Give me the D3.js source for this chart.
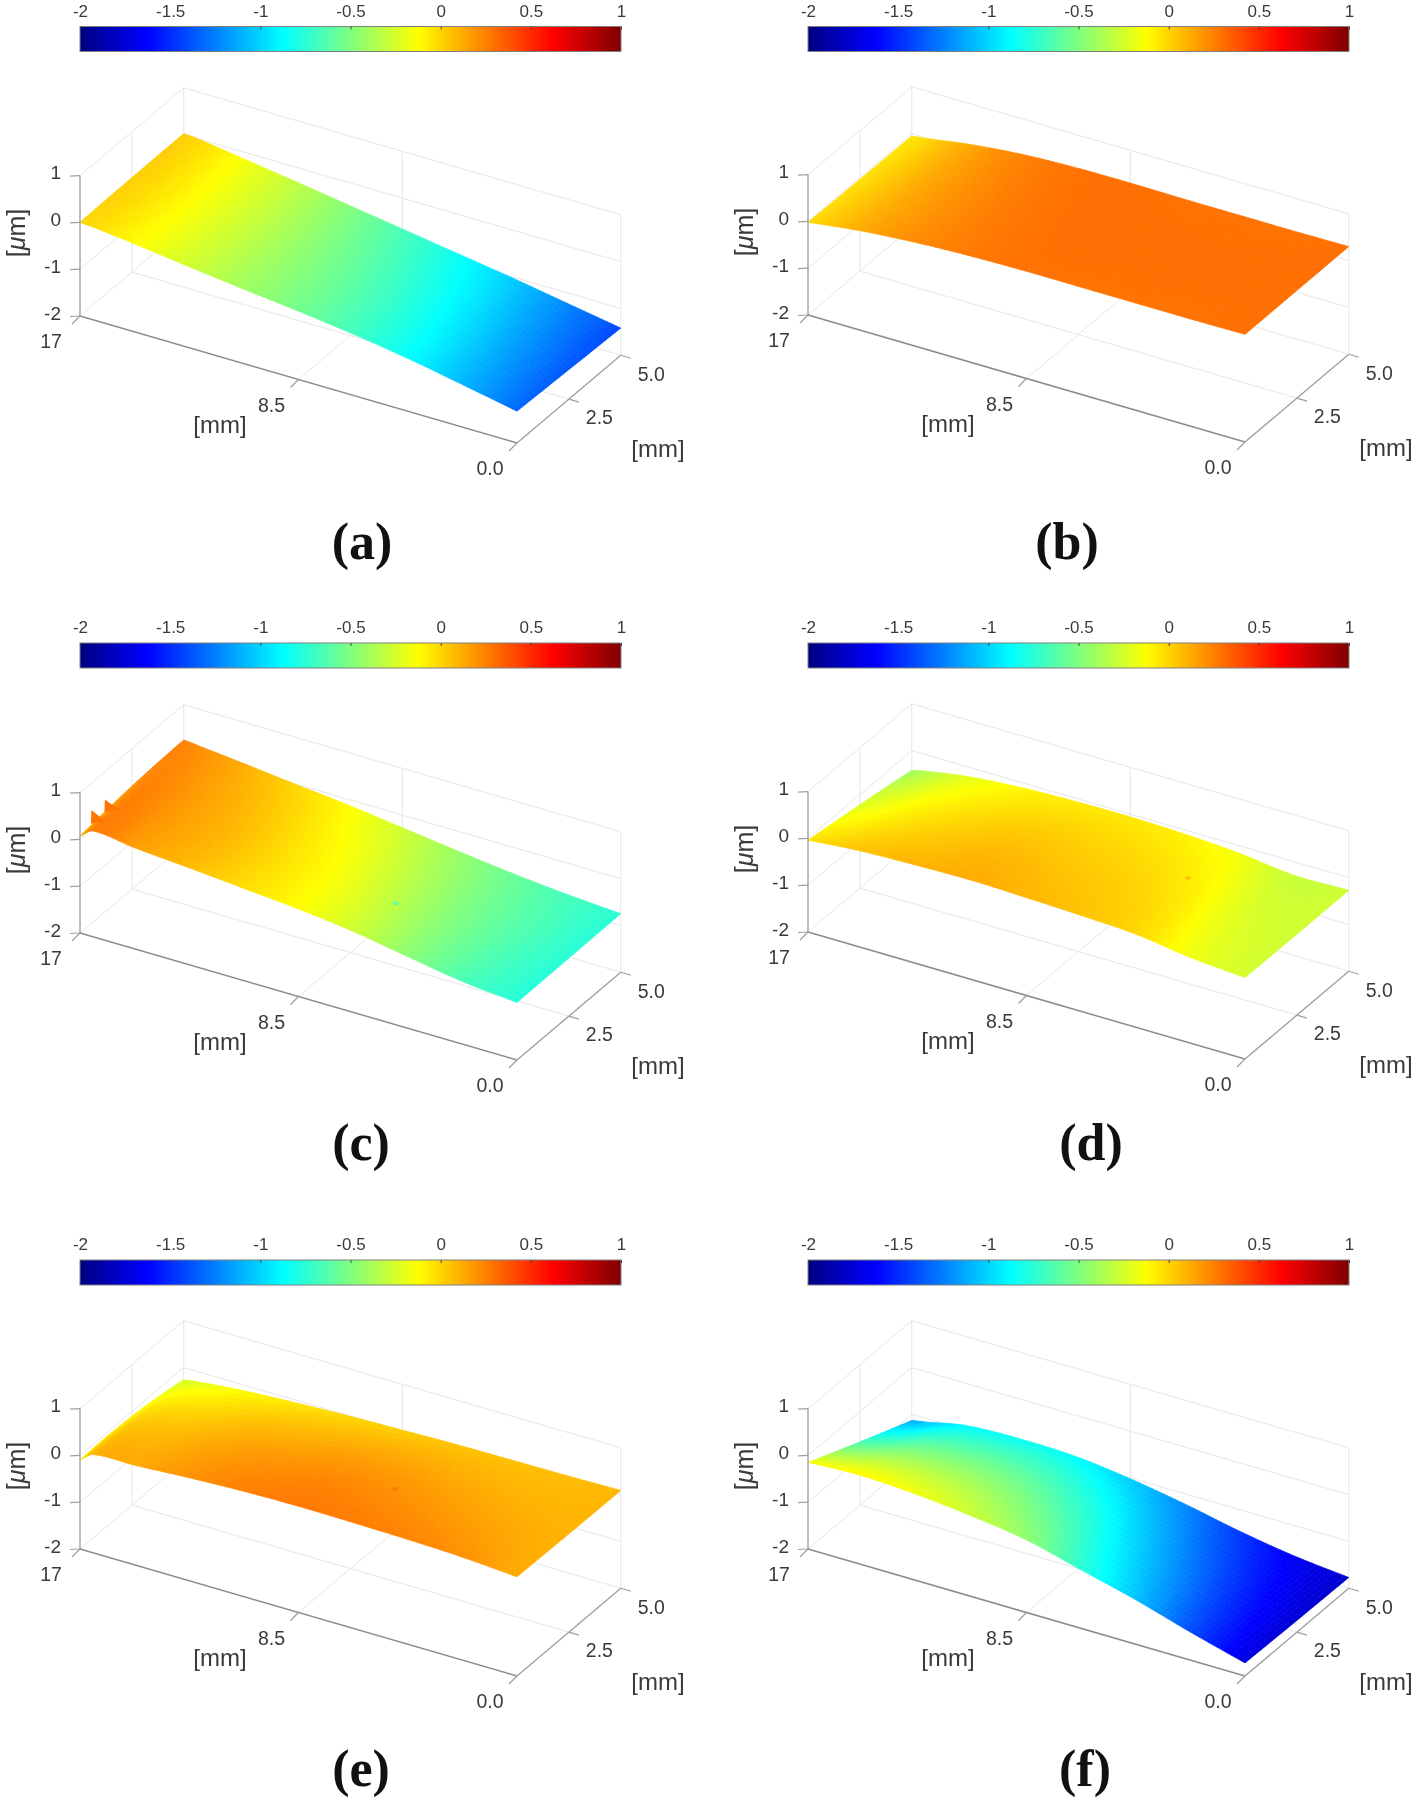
<!DOCTYPE html>
<html>
<head>
<meta charset="utf-8">
<script src="https://cdnjs.cloudflare.com/ajax/libs/d3/7.8.5/d3.min.js"></script>
<style>
  html, body { margin: 0; padding: 0; background: #fff; }
  svg { display: block; filter: blur(0.55px); }
  text { font-family: "Liberation Sans", Arial, sans-serif; fill: #3a3a3a; }
  .panelLabel { font-family: "Liberation Serif", "Times New Roman", serif; font-weight: bold; fill: #111; }
</style>
</head>
<body>
<svg id="chart"></svg>
<script>
// Values. Rows run along the 17 mm side, from y = 0 to y = 5 mm.
const xStations = [17, 16.5, 14.875, 12.75, 10.625, 8.5, 6.375, 4.25, 2.125, 0];
const yStations = [0, 2.5, 5];

const surfaceA = [
  [0, -0.02, -0.12, -0.27, -0.41, -0.54, -0.69, -0.87, -1.09, -1.32],
  [0.02, 0, -0.11, -0.27, -0.43, -0.58, -0.74, -0.93, -1.15, -1.37],
  [0.02, 0, -0.13, -0.3, -0.48, -0.66, -0.84, -1.02, -1.22, -1.42],
];
const surfaceB = [
  [-0.02, 0.02, 0.13, 0.22, 0.27, 0.29, 0.29, 0.29, 0.29, 0.3],
  [-0.04, 0, 0.12, 0.22, 0.28, 0.3, 0.3, 0.3, 0.3, 0.3],
  [-0.05, -0.02, 0.12, 0.24, 0.29, 0.3, 0.29, 0.29, 0.29, 0.3],
];
const surfaceC = [
  [0.07, 0.26, 0.16, 0.07, -0.03, -0.13, -0.27, -0.47, -0.66, -0.77],
  [0.2, 0.25, 0.17, 0.08, -0.04, -0.16, -0.33, -0.5, -0.64, -0.76],
  [0.25, 0.22, 0.13, 0, -0.12, -0.27, -0.42, -0.56, -0.67, -0.75],
];
const surfaceD = [
  [-0.04, -0.01, 0.06, 0.1, 0.12, 0.09, 0.05, -0.01, -0.17, -0.26],
  [-0.22, -0.18, -0.07, 0.01, 0.05, 0.03, 0, -0.07, -0.22, -0.27],
  [-0.42, -0.36, -0.21, -0.11, -0.07, -0.06, -0.09, -0.16, -0.29, -0.27],
];
const surfaceE = [
  [-0.1, 0.1, 0.13, 0.2, 0.25, 0.27, 0.26, 0.24, 0.2, 0.12],
  [-0.1, 0, 0.05, 0.12, 0.16, 0.19, 0.18, 0.15, 0.12, 0.1],
  [-0.26, -0.22, -0.13, -0.06, -0.01, 0.02, 0.05, 0.06, 0.07, 0.09],
];
const surfaceF = [
  [-0.15, -0.13, -0.1, -0.16, -0.28, -0.45, -0.75, -1.05, -1.4, -1.72],
  [-0.65, -0.62, -0.5, -0.48, -0.55, -0.72, -0.98, -1.25, -1.52, -1.75],
  [-1.13, -1.08, -0.9, -0.85, -0.88, -1.02, -1.22, -1.46, -1.65, -1.77],
];

// Small defects seen on the surfaces: [panel, x mm, y mm, z of the surface there, z of the defect]
const surfaceSpots = [
  ["c", 6.4, 2.07, -0.45, -0.8],
  ["d", 4.8, 3.2, -0.1, 0.15],
  ["e", 6.4, 2.07, 0.2, 0.32],
];
// Spikes sticking out at the clamped end of panel c: [x mm, y mm, z]
const spikesC = [
  [17, 0.55, 0.42],
  [17, 1.2, 0.4],
];

const colorbarTicks = [-2, -1.5, -1, -0.5, 0, 0.5, 1];
const zTicks = [1, 0, -1, -2];
const xTicks = [17, 8.5, 0];
const yTicks = [5, 2.5, 0];
const xTickLabels = ["17", "8.5", "0.0"];
const yTickLabels = ["5.0", "2.5", ""];
const panelNames = ["a", "b", "c", "d", "e", "f"];
const panelSurfaces = [surfaceA, surfaceB, surfaceC, surfaceD, surfaceE, surfaceF];

// Layout of the page, one entry per panel.
const width = 1418;
const height = 1798;
const panelOrigins = [
  [80, 316], [808, 315],
  [80, 933], [808, 932],
  [80, 1549], [808, 1549],
];
const colorbarTops = [26.5, 26.5, 643, 643, 1260, 1260];
const labelCenters = [
  [362, 559], [1067, 559],
  [361, 1160], [1091, 1160],
  [361, 1786], [1085, 1786],
];

const svg = d3.select("#chart").attr("width", width).attr("height", height);

// MATLAB jet over the limits of the colour bar.
const jetStops = [-2, -1.625, -0.875, -0.125, 0.625, 1];
const jet = d3
  .scaleLinear()
  .domain(jetStops)
  .range(["#000080", "#0000ff", "#00ffff", "#ffff00", "#ff0000", "#800000"])
  .clamp(true);

// The three axes of the box, each one giving a fraction or a pixel height.
const xScale = d3.scaleLinear().domain([17, 0]).range([0, 1]);
const yScale = d3.scaleLinear().domain([0, 5]).range([0, 1]);
const zScale = d3.scaleLinear().domain([-2, 1]).range([0, 140.4]);

function makeProjection(origin) {
  return (x, y, z) => {
    const u = xScale(x);
    const v = yScale(y);
    return [
      origin[0] + 437 * u + 103.8 * v,
      origin[1] + 127 * u - 87.8 * v - zScale(z),
    ];
  };
}

function drawLine(g, a, b, stroke, strokeWidth) {
  g.append("line")
    .attr("x1", a[0])
    .attr("y1", a[1])
    .attr("x2", b[0])
    .attr("y2", b[1])
    .attr("stroke", stroke)
    .attr("stroke-width", strokeWidth);
}

// Only one gradient is needed, all colour bars share it.
const gradient = svg
  .append("defs")
  .append("linearGradient")
  .attr("id", "jetGradient")
  .attr("x1", "0%")
  .attr("x2", "100%");
gradient
  .selectAll("stop")
  .data(jetStops)
  .enter()
  .append("stop")
  .attr("offset", (d) => `${((d + 2) / 3) * 100}%`)
  .attr("stop-color", (d) => jet(d));

function drawColorbar(left, top) {
  const barWidth = 541;
  const barHeight = 25;
  const scale = d3.scaleLinear().domain([-2, 1]).range([left, left + barWidth]);
  const g = svg.append("g");

  g.append("rect")
    .attr("x", left)
    .attr("y", top)
    .attr("width", barWidth)
    .attr("height", barHeight)
    .attr("fill", "url(#jetGradient)")
    .attr("stroke", "#808080")
    .attr("stroke-width", 1);

  const axis = d3
    .axisTop(scale)
    .tickValues(colorbarTicks)
    .tickSize(-3)
    .tickPadding(10)
    .tickFormat((d) => String(d));
  const axisGroup = g.append("g").attr("transform", `translate(0, ${top})`).call(axis);
  axisGroup.select(".domain").remove();
  axisGroup.selectAll("line").attr("stroke", "#444");
  axisGroup.selectAll("text").style("font-size", "17px");
  axisGroup.attr("font-family", null);
}

function drawBox(g, project) {
  const grid = "#e6e6e6";

  // Back walls and floor edges.
  drawLine(g, project(17, 0, 1), project(17, 5, 1), grid, 1);
  drawLine(g, project(17, 5, 1), project(0, 5, 1), grid, 1);
  drawLine(g, project(17, 5, 1), project(17, 5, -2), grid, 1);
  drawLine(g, project(0, 5, 1), project(0, 5, -2), grid, 1);
  drawLine(g, project(17, 0, -2), project(17, 5, -2), grid, 1);
  drawLine(g, project(17, 5, -2), project(0, 5, -2), grid, 1);

  // Grid lines at the ticks.
  [0, -1].forEach((z) => {
    drawLine(g, project(17, 0, z), project(17, 5, z), grid, 1);
    drawLine(g, project(17, 5, z), project(0, 5, z), grid, 1);
  });
  drawLine(g, project(17, 2.5, 1), project(17, 2.5, -2), grid, 1);
  drawLine(g, project(17, 2.5, -2), project(0, 2.5, -2), grid, 1);
  drawLine(g, project(8.5, 5, 1), project(8.5, 5, -2), grid, 1);
  drawLine(g, project(8.5, 0, -2), project(8.5, 5, -2), grid, 1);
}

// Shading between the read values: a cubic along x through each row,
// then a parabola through the three rows across y.
function rowValue(row, x) {
  // xStations run downward, so work with the distance from the 17 mm end.
  const s = (x0) => 17 - x0;
  let i = d3.bisectRight(xStations.map(s), s(x)) - 1;
  i = Math.max(0, Math.min(xStations.length - 2, i));
  const slope = (a, b) => (row[b] - row[a]) / (s(xStations[b]) - s(xStations[a]));
  const m0 = i > 0 ? slope(i - 1, i + 1) : slope(i, i + 1);
  const m1 = i < xStations.length - 2 ? slope(i, i + 2) : slope(i, i + 1);
  const h = s(xStations[i + 1]) - s(xStations[i]);
  const t = (s(x) - s(xStations[i])) / h;
  return (
    (2 * t ** 3 - 3 * t ** 2 + 1) * row[i] +
    (t ** 3 - 2 * t ** 2 + t) * h * m0 +
    (-2 * t ** 3 + 3 * t ** 2) * row[i + 1] +
    (t ** 3 - t ** 2) * h * m1
  );
}

function surfaceValue(rows, x, y) {
  const [z0, z1, z2] = rows.map((row) => rowValue(row, x));
  const b = y / 5;
  return z0 * (1 - b) * (1 - 2 * b) + z1 * 4 * b * (1 - b) + z2 * b * (2 * b - 1);
}

function drawSurface(g, project, rows) {
  const xSteps = 12;
  const ySteps = 20;
  const xSamples = [];
  for (let i = 0; i < xStations.length - 1; i++) {
    for (let s = 0; s < xSteps; s++) {
      xSamples.push(xStations[i] + ((xStations[i + 1] - xStations[i]) * s) / xSteps);
    }
  }
  xSamples.push(0);
  const ySamples = d3.range(ySteps + 1).map((j) => (5 * j) / ySteps);

  const cells = [];
  for (let i = 0; i < xSamples.length - 1; i++) {
    for (let j = 0; j < ySamples.length - 1; j++) {
      const corners = [
        [xSamples[i], ySamples[j]],
        [xSamples[i + 1], ySamples[j]],
        [xSamples[i + 1], ySamples[j + 1]],
        [xSamples[i], ySamples[j + 1]],
      ].map(([x, y]) => {
        const z = surfaceValue(rows, x, y);
        return { point: project(x, y, z), z: z };
      });
      cells.push({
        points: corners.map((c) => c.point),
        z: d3.mean(corners, (c) => c.z),
      });
    }
  }

  g.selectAll(".cell")
    .data(cells)
    .enter()
    .append("path")
    .attr("class", "cell")
    .attr("d", (d) => d3.line()(d.points) + "Z")
    .attr("fill", (d) => jet(d.z))
    .attr("stroke", (d) => jet(d.z))
    .attr("stroke-width", 0.7);
}

function drawFrontAxes(g, project) {
  const axisGray = "#a0a0a0";

  // z axis on the left, x axis in front (drawn darker), y axis on the right.
  drawLine(g, project(17, 0, 1), project(17, 0, -2), axisGray, 1.4);
  drawLine(g, project(17, 0, -2), project(0, 0, -2), "#8c8c8c", 1.5);
  drawLine(g, project(0, 0, -2), project(0, 5, -2), axisGray, 1.4);

  zTicks.forEach((z) => {
    const p = project(17, 0, z);
    drawLine(g, p, [p[0] - 10, p[1] + 0.5], axisGray, 1.2);
    g.append("text")
      .attr("x", p[0] - 19)
      .attr("y", p[1] - 3)
      .attr("dy", "0.35em")
      .attr("text-anchor", "end")
      .style("font-size", "19px")
      .text(z);
  });

  xTicks.forEach((x, i) => {
    const p = project(x, 0, -2);
    drawLine(g, p, [p[0] - 8, p[1] + 8], axisGray, 1.2);
    g.append("text")
      .attr("x", p[0] - (i === 0 ? 29 : 27))
      .attr("y", p[1] + 25.5)
      .attr("dy", "0.35em")
      .attr("text-anchor", "middle")
      .style("font-size", "19.5px")
      .text(xTickLabels[i]);
  });

  yTicks.forEach((y, i) => {
    const p = project(0, y, -2);
    if (!yTickLabels[i]) return;
    drawLine(g, p, [p[0] + 10, p[1] + 3], axisGray, 1.2);
    g.append("text")
      .attr("x", p[0] + 30.5)
      .attr("y", p[1] + 18.5)
      .attr("dy", "0.35em")
      .attr("text-anchor", "middle")
      .style("font-size", "19.5px")
      .text(yTickLabels[i]);
  });
}

function drawAxisLabels(g, origin) {
  g.append("text")
    .attr("x", origin[0] + 140)
    .attr("y", origin[1] + 109)
    .attr("dy", "0.35em")
    .attr("text-anchor", "middle")
    .style("font-size", "24px")
    .text("[mm]");

  g.append("text")
    .attr("x", origin[0] + 578)
    .attr("y", origin[1] + 133)
    .attr("dy", "0.35em")
    .attr("text-anchor", "middle")
    .style("font-size", "24px")
    .text("[mm]");

  const zLabel = g
    .append("text")
    .attr("transform", `translate(${origin[0] - 64}, ${origin[1] - 83}) rotate(-90)`)
    .attr("dy", "0.35em")
    .attr("text-anchor", "middle")
    .style("font-size", "25px");
  zLabel.append("tspan").text("[");
  zLabel.append("tspan").style("font-style", "italic").text("\u03bc");
  zLabel.append("tspan").text("m]");
}

function drawMarks(g, project, name, rows) {
  surfaceSpots
    .filter((d) => d[0] === name)
    .forEach((d) => {
      const p = project(d[1], d[2], d[3]);
      g.append("ellipse")
        .attr("cx", p[0])
        .attr("cy", p[1])
        .attr("rx", 3)
        .attr("ry", 1.8)
        .attr("fill", jet(d[4]))
        .attr("opacity", 0.55);
    });

  if (name === "c") {
    spikesC.forEach((d) => {
      const tip = project(d[0], d[1], d[2]);
      const left = project(d[0] - 0.1, d[1] - 0.15, rows[1][0]);
      const right = project(d[0] - 0.4, d[1] + 0.15, rows[1][0]);
      g.append("path")
        .attr("d", d3.line()([left, tip, right]) + "Z")
        .attr("fill", jet(rows[1][0] + 0.08));
    });
  }
}

panelNames.forEach((name, k) => {
  const origin = panelOrigins[k];
  const project = makeProjection(origin);
  const g = svg.append("g").attr("class", "panel");

  drawColorbar(origin[0], colorbarTops[k]);
  drawBox(g, project);
  drawSurface(g, project, panelSurfaces[k]);
  drawMarks(g, project, name, panelSurfaces[k]);
  drawFrontAxes(g, project);
  drawAxisLabels(g, origin);

  svg
    .append("text")
    .attr("class", "panelLabel")
    .attr("x", labelCenters[k][0])
    .attr("y", labelCenters[k][1])
    .attr("text-anchor", "middle")
    .style("font-size", "52px")
    .text(`(${name})`);
});
</script>
</body>
</html>
